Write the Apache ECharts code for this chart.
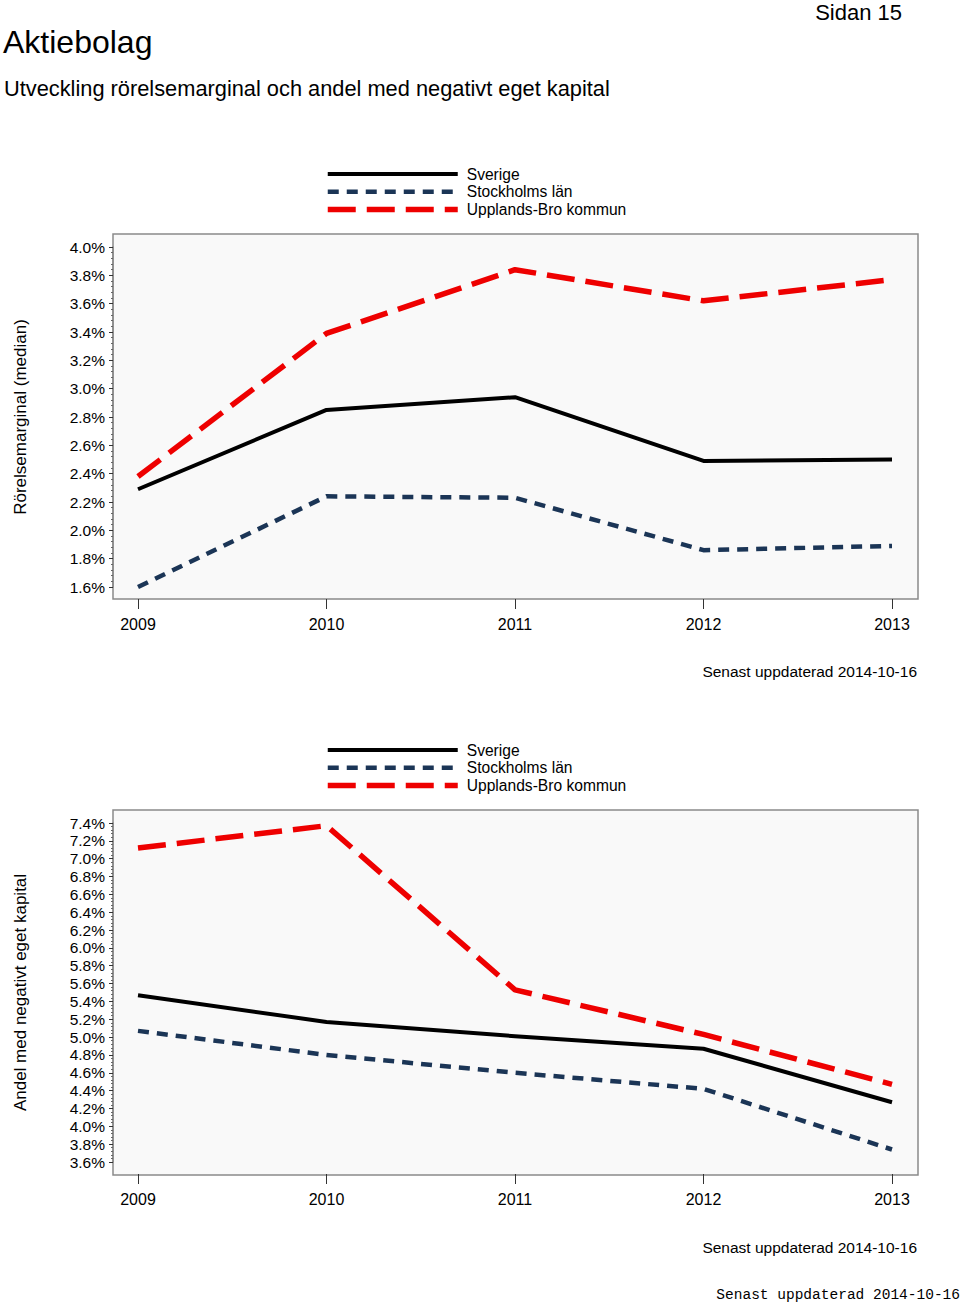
<!DOCTYPE html>
<html>
<head>
<meta charset="utf-8">
<script src="https://cdn.jsdelivr.net/npm/echarts@6/dist/echarts.min.js"></script>
<style>
  html, body { margin: 0; padding: 0; background: #fff; }
  #main { width: 960px; height: 1306px; }
</style>
</head>
<body>
<div id="main"></div>
<script>
var years = ['2009', '2010', '2011', '2012', '2013'];
var seriesNames = ['Sverige', 'Stockholms län', 'Upplands-Bro kommun'];

// Rörelsemarginal (median), %
var margSverige = [2.29, 2.85, 2.94, 2.49, 2.50];
var margStockholm = [1.60, 2.24, 2.23, 1.86, 1.89];
var margUpplands = [2.38, 3.39, 3.84, 3.62, 3.77];

// Andel med negativt eget kapital, %
var negSverige = [5.47, 5.17, 5.01, 4.87, 4.27];
var negStockholm = [5.07, 4.80, 4.60, 4.42, 3.74];
var negUpplands = [7.12, 7.37, 5.53, 5.03, 4.47];

var font = 'Liberation Sans, Arial, sans-serif';
var styles = [
    { color: '#000000', width: 4, type: 'solid' },
    { color: '#1b3556', width: 4.5, type: [11, 8] },
    { color: '#ee0000', width: 5.5, type: [28, 11] }
];

function pct(v) { return v.toFixed(1) + '%'; }

function frameGrid(top) {
    return { left: 113, top: top, width: 805, height: 365, show: true,
             backgroundColor: '#f9f9f9', borderColor: '#8a8a8a', borderWidth: 1.5 };
}
function hiddenAxis(type, gi) {
    return { type: type, gridIndex: gi, show: false };
}
function dataXAxis(gi) {
    return {
        type: 'category', gridIndex: gi, data: years, boundaryGap: false, offset: 12,
        axisLine: { show: false },
        axisTick: { show: true, length: 10, lineStyle: { color: '#333', width: 1 } },
        axisLabel: { color: '#000', fontSize: 16, fontFamily: font, margin: 17 },
        splitLine: { show: false }
    };
}
function dataYAxis(gi, min, max, name, gap) {
    return {
        type: 'value', gridIndex: gi, min: min, max: max, interval: 0.2, offset: 25,
        name: name, nameLocation: 'middle', nameRotate: 90, nameGap: gap,
        nameTextStyle: { color: '#000', fontSize: 17, fontFamily: font },
        axisLine: { show: true, lineStyle: { color: '#8a8a8a', width: 1.5 } },
        axisTick: { show: true, length: 4, lineStyle: { color: '#333' } },
        minorTick: { show: true, splitNumber: 5, length: 2, lineStyle: { color: '#666' } },
        axisLabel: { color: '#000', fontSize: 15.5, fontFamily: font, margin: 8, formatter: pct },
        splitLine: { show: false }
    };
}
function line(name, data, idx, xi) {
    var s = styles[idx];
    return {
        name: name, type: 'line', xAxisIndex: xi, yAxisIndex: xi, data: data,
        symbol: 'none', z: 3 - idx,
        lineStyle: { color: s.color, width: s.width, type: s.type, join: 'round' },
        itemStyle: { color: s.color }
    };
}
function legend(top) {
    return {
        orient: 'vertical', left: 320, top: top,
        data: seriesNames.map(function (n, i) {
            return { name: n, lineStyle: { width: styles[i].width, type: styles[i].type, color: styles[i].color } };
        }),
        itemWidth: 130, itemHeight: 10, itemGap: 1.7,
        itemStyle: { opacity: 0 },
        textStyle: { color: '#000', fontSize: 15.6, fontFamily: font, padding: [0, 0, 0, 4] },
        selectedMode: false
    };
}

var myChart = echarts.init(document.getElementById('main'), null, { renderer: 'svg' });
var option = {
    backgroundColor: '#ffffff',
    animation: false,
    title: [
        { text: 'Aktiebolag', left: -2, top: 21, textStyle: { fontSize: 32, fontWeight: 'normal', color: '#000', fontFamily: font } },
        { text: 'Utveckling rörelsemarginal och andel med negativt eget kapital', left: -1, top: 72, textStyle: { fontSize: 21.8, fontWeight: 'normal', color: '#000', fontFamily: font } },
        { text: 'Sidan 15', right: 53, top: -4, textStyle: { fontSize: 22, fontWeight: 'normal', color: '#000', fontFamily: font } },
        { text: 'Senast uppdaterad 2014-10-16', right: 38, top: 658, textStyle: { fontSize: 15.5, fontWeight: 'normal', color: '#000', fontFamily: font } },
        { text: 'Senast uppdaterad 2014-10-16', right: 38, top: 1234, textStyle: { fontSize: 15.5, fontWeight: 'normal', color: '#000', fontFamily: font } },
        { text: 'Senast uppdaterad 2014-10-16', right: -5, top: 1282, textStyle: { fontSize: 14.5, fontWeight: 'normal', color: '#000', fontFamily: 'Liberation Mono, Courier New, monospace' } }
    ],
    legend: [legend(161), legend(737)],
    grid: [frameGrid(234), { left: 138, width: 754, top: 247, height: 340 },
           frameGrid(810), { left: 138, width: 754, top: 823, height: 339 }],
    xAxis: [hiddenAxis('category', 0), dataXAxis(1), hiddenAxis('category', 2), dataXAxis(3)],
    yAxis: [hiddenAxis('value', 0), dataYAxis(1, 1.6, 4.0, 'Rörelsemarginal (median)', 84),
            hiddenAxis('value', 2), dataYAxis(3, 3.6, 7.4, 'Andel med negativt eget kapital', 84)],
    series: [
        line('Sverige', margSverige, 0, 1),
        line('Stockholms län', margStockholm, 1, 1),
        line('Upplands-Bro kommun', margUpplands, 2, 1),
        line('Sverige', negSverige, 0, 3),
        line('Stockholms län', negStockholm, 1, 3),
        line('Upplands-Bro kommun', negUpplands, 2, 3)
    ]
};
myChart.setOption(option);
</script>
</body>
</html>
